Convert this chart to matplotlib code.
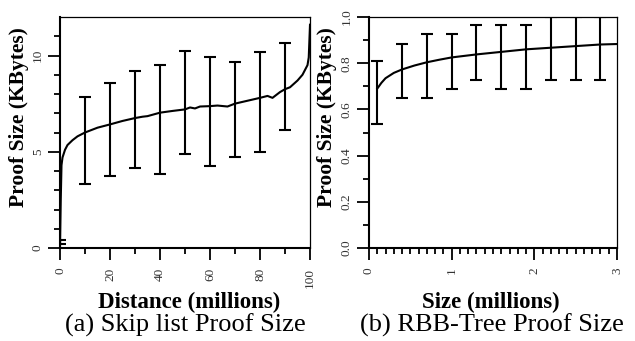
import matplotlib
matplotlib.use("Agg")
import matplotlib.pyplot as plt
import numpy as np

plt.rcParams['font.family'] = ['Liberation Serif', 'DejaVu Serif']

# (a) skip list: mean proof size vs distance
dist = [0, 0.3, 0.6, 1, 2, 3, 5, 7, 10, 15, 20, 25, 30, 33, 35, 40, 45, 50, 52, 54,
        56, 60, 63, 67, 70, 75, 80, 83, 85, 88, 90, 92, 95, 97, 98, 99, 99.5, 100]
skip_mean = [0, 2.5, 4.3, 4.7, 5.1, 5.35, 5.6, 5.8, 6.0, 6.25, 6.42, 6.6, 6.75, 6.82,
             6.85, 7.03, 7.12, 7.2, 7.3, 7.25, 7.35, 7.37, 7.4, 7.35, 7.5, 7.65, 7.8,
             7.9, 7.8, 8.1, 8.25, 8.35, 8.7, 9.0, 9.25, 9.5, 9.9, 11.6]
skip_err_x = [0, 10, 20, 30, 40, 50, 60, 70, 80, 90]
skip_lo = [0.2, 3.32, 3.75, 4.18, 3.87, 4.86, 4.27, 4.74, 4.98, 6.13]
skip_hi = [0.42, 7.83, 8.56, 9.2, 9.51, 10.24, 9.9, 9.67, 10.16, 10.66]

# (b) RBB-tree: mean proof size vs size
size = [0.1, 0.15, 0.2, 0.3, 0.4, 0.55, 0.7, 0.85, 1.0, 1.3, 1.6, 1.9, 2.2, 2.5, 2.8, 3.0]
rbb_mean = [0.69, 0.715, 0.735, 0.758, 0.773, 0.79, 0.804, 0.815, 0.825, 0.838, 0.849,
            0.86, 0.867, 0.874, 0.881, 0.883]
rbb_err_x = [0.1, 0.4, 0.7, 1.0, 1.3, 1.6, 1.9, 2.2, 2.5, 2.8]
rbb_lo = [0.535, 0.651, 0.651, 0.69, 0.729, 0.69, 0.69, 0.729, 0.729, 0.729]
rbb_hi = [0.808, 0.885, 0.925, 0.925, 0.964, 0.964, 0.964, 1.0, 1.0, 1.0]

W, H = 635, 341
fig = plt.figure(figsize=(W / 100, H / 100), dpi=100)
ax1 = fig.add_axes([60 / W, (H - 248) / H, 250 / W, 231 / H])
ax2 = fig.add_axes([369 / W, (H - 248) / H, 248 / W, 231 / H])


def style(ax):
    for s in ['left', 'bottom']:
        ax.spines[s].set_linewidth(1.5)
    for s in ['top', 'right']:
        ax.spines[s].set_linewidth(0.9)
    ax.tick_params(which='major', length=8.6, width=1.3, labelsize=9.5,
                   labelcolor='#333333')
    ax.tick_params(which='minor', length=4.5, width=1.3)
    ax.tick_params(axis='x', labelrotation=90, pad=5.5)
    ax.tick_params(axis='y', labelrotation=90, pad=3)
    for lab in ax.get_yticklabels():
        lab.set_va('center')


def errbars(ax, x, lo, hi):
    x = np.array(x); lo = np.array(lo); hi = np.array(hi)
    mid = (lo + hi) / 2
    ax.errorbar(x, mid, yerr=[mid - lo, hi - mid], fmt='none', ecolor='black',
                elinewidth=1.5, capsize=4, capthick=1.5)


# left panel
ax1.plot(dist, skip_mean, color='black', lw=1.5)
errbars(ax1, skip_err_x, skip_lo, skip_hi)
ax1.set_xlim(0, 100)
ax1.set_ylim(0, 12)
ax1.set_xticks([0, 20, 40, 60, 80, 100])
ax1.set_xticks([10, 30, 50, 70, 90], minor=True)
ax1.set_yticks([0, 5, 10])
ax1.set_yticks([1, 2, 3, 4, 6, 7, 8, 9, 11], minor=True)
style(ax1)

# right panel
ax2.plot(size, rbb_mean, color='black', lw=1.5)
errbars(ax2, rbb_err_x, rbb_lo, rbb_hi)
ax2.set_xlim(0, 3)
ax2.set_ylim(0, 1.0)
ax2.set_xticks([0, 1, 2, 3])
ax2.set_xticks(np.arange(0.1, 3, 0.1), minor=True)
ax2.set_yticks([0.0, 0.2, 0.4, 0.6, 0.8, 1.0])
ax2.set_yticks([0.1, 0.3, 0.5, 0.7, 0.9], minor=True)
ax2.set_yticklabels(['0.0', '0.2', '0.4', '0.6', '0.8', '1.0'])
style(ax2)

ylab = dict(fontsize=15.5, fontweight='bold', ha='center', va='center', rotation=90)
fig.text(19 / W, 1 - 117 / H, 'Proof Size (KBytes)', **ylab)
fig.text(327 / W, 1 - 117 / H, 'Proof Size (KBytes)', **ylab)
xlab = dict(fontsize=16.5, fontweight='bold', ha='center', va='center')
fig.text(189 / W, 1 - 302 / H, 'Distance (millions)', **xlab)
fig.text(491 / W, 1 - 302 / H, 'Size (millions)', **xlab)

fig.text(185 / W, 1 - 325 / H, '(a) Skip list Proof Size', ha='center', va='center', fontsize=19)
fig.text(492 / W, 1 - 325 / H, '(b) RBB-Tree Proof Size', ha='center', va='center', fontsize=19)

fig.savefig('out.png', dpi=100)
